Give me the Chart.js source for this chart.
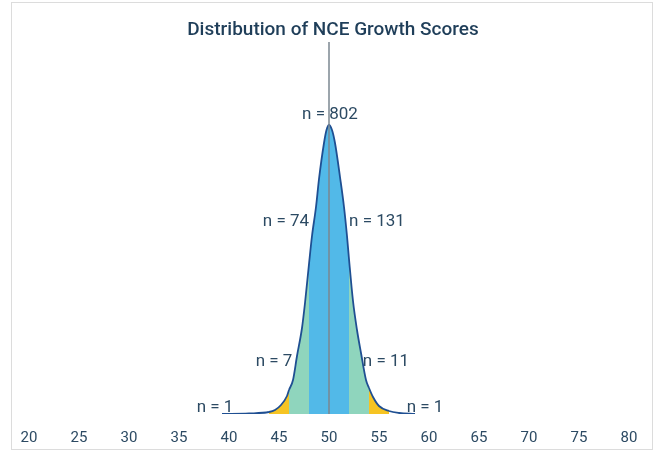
<!DOCTYPE html>
<html>
<head>
<meta charset="utf-8">
<script src="https://cdn.jsdelivr.net/npm/chart.js@4.4.1/dist/chart.umd.min.js"></script>
<style>
  body { margin: 0; background: #fff; }
  #box {
    position: absolute; left: 11px; top: 2px;
    width: 640px; height: 446px;
    border: 1px solid #dcdcdc;
  }
</style>
</head>
<body>
<div id="box"><canvas id="growthChart" width="640" height="446"></canvas></div>
<script>
// x axis ticks
const xTicks = [20, 25, 30, 35, 40, 45, 50, 55, 60, 65, 70, 75, 80];

// curve (score, height)
const curveX = [39.3, 42.0, 44.0, 44.6, 45.2, 45.8, 46.0, 46.4, 46.8, 47.3, 47.6, 48.0, 48.3, 48.7, 49.0, 49.5, 49.75, 50.0,
                50.3, 50.6, 51.1, 51.5, 51.8, 52.0, 52.4, 52.8, 53.2, 53.7, 54.0, 54.4, 55.0, 56.0, 57.0, 58.6];
const curveY = [0, 0.5, 2, 4, 9, 18, 24, 34, 58, 86, 111, 150, 178, 207, 235, 271, 284, 289,
                284, 271, 237, 207, 178, 155, 113, 84, 61, 34, 26, 17, 8, 3, 1, 0];

// band edges (yellow | green | blue | green | yellow)
const bandEdges = [44, 46, 48, 52, 54, 56];

// n labels
const labelText = ['n = 1', 'n = 7', 'n = 74', 'n = 802', 'n = 131', 'n = 11', 'n = 1'];
const labelX = [38.6, 44.5, 45.7, 50.1, 54.8, 55.7, 59.6];
const labelY = [6, 52, 192, 299, 192, 52, 6];

const centerScore = 50;
const yTop = 372;

const bandColors = ['#f6c423', '#8fd5bd', '#52b9e8', '#8fd5bd', '#f6c423'];

function bandColor(x) {
    for (let i = 0; i < bandEdges.length - 1; i++) {
        if (x >= bandEdges[i] && x <= bandEdges[i + 1]) return bandColors[i];
    }
    return 'rgba(0,0,0,0)';
}

let points = [];
curveX.forEach(function(x, i) {
    points.push({x: x, y: curveY[i]});
});

const textColor = '#2c4a63';

const labelPlugin = {
    id: 'nLabels',
    afterDatasetsDraw(chart) {
        const ctx = chart.ctx;
        const xs = chart.scales.x;
        const ys = chart.scales.y;
        ctx.save();
        ctx.fillStyle = textColor;
        ctx.textAlign = 'center';
        ctx.textBaseline = 'middle';
        ctx.font = '17px Roboto';
        labelText.forEach(function(t, i) {
            ctx.fillText(t, xs.getPixelForValue(labelX[i]), ys.getPixelForValue(labelY[i]));
        });
        // title
        ctx.fillStyle = '#1f3e59';
        ctx.font = '500 19px Roboto';
        ctx.fillText('Distribution of NCE Growth Scores', 321, 27);
        ctx.restore();
    }
};

var ctx = document.getElementById('growthChart').getContext('2d');
var chart = new Chart(ctx, {
    type: 'line',
    data: {
        datasets: [{
            data: [{x: centerScore, y: 0}, {x: centerScore, y: yTop}],
            borderColor: '#7b8791',
            borderWidth: 1.5,
            pointRadius: 0,
            fill: false,
            order: 1
        }, {
            data: points,
            borderColor: '#1f4f92',
            borderWidth: 1.8,
            pointRadius: 0,
            cubicInterpolationMode: 'monotone',
            fill: 'origin',
            backgroundColor: 'rgba(0,0,0,0)',
            segment: {
                backgroundColor: function(c) {
                    return bandColor((c.p0.parsed.x + c.p1.parsed.x) / 2);
                }
            },
            order: 2
        }]
    },
    options: {
        responsive: false,
        animation: false,
        layout: { padding: { top: 39, left: 17, right: 23, bottom: 3 } },
        plugins: { legend: { display: false }, tooltip: { enabled: false } },
        scales: {
            x: {
                type: 'linear',
                min: 20,
                max: 80,
                afterBuildTicks: function(axis) {
                    axis.ticks = xTicks.map(function(v) { return {value: v}; });
                },
                afterFit: function(axis) {
                    axis.height = 32;
                    axis.paddingLeft = 0;
                    axis.paddingRight = 0;
                },
                grid: { display: false, drawTicks: false },
                border: { display: false },
                ticks: {
                    color: textColor,
                    font: { family: 'Roboto', size: 15 },
                    padding: 15,
                    maxRotation: 0
                }
            },
            y: {
                display: false,
                min: 0,
                max: yTop
            }
        }
    },
    plugins: [labelPlugin]
});
</script>
</body>
</html>
